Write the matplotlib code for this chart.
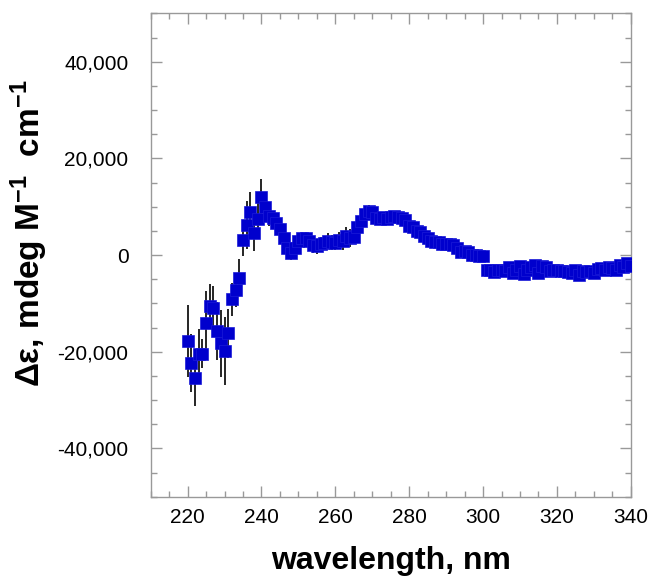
import matplotlib
matplotlib.use('Agg')
import matplotlib.pyplot as plt
from matplotlib.ticker import MultipleLocator, FuncFormatter

plt.rcParams['font.family'] = ['Liberation Sans', 'DejaVu Sans']
plt.rcParams['mathtext.fontset'] = 'custom'
plt.rcParams['mathtext.rm'] = 'Liberation Sans:bold'
plt.rcParams['mathtext.default'] = 'rm'

# wavelength, nm (one point per nm)
wavelength = list(range(220, 341))

# delta epsilon
delta_eps = [
    -17800, -22300, -25500, -20400, -20400, -14000, -10500, -11000, -15700, -18300,  # 220-229
    -19900, -16200, -9200, -7200, -4700, 3200, 6200, 9000, 4600, 7500,              # 230-239
    12000, 10000, 8000, 7700, 6700, 5300, 3500, 1500, 500, 1500,                     # 240-249
    2800, 3500, 3600, 3000, 2000, 1800, 2200, 2500, 3000, 2600,                      # 250-259
    2500, 3200, 2800, 4000, 3500, 3800, 5800, 7000, 8500, 9200,                      # 260-269
    9000, 7600, 7400, 7800, 7500, 7900, 8000, 7800, 7600, 7300,                      # 270-279
    6000, 5800, 5000, 4800, 4000, 3500, 3000, 2600, 2600, 2200,                      # 280-289
    2300, 2200, 2000, 1500, 700, 800, 600, 0, 0, -100,                               # 290-299
    -100, -3000, -3200, -3600, -3200, -3000, -3400, -2400, -3800, -3000,             # 300-309
    -2200, -4000, -3000, -2500, -2000, -3800, -2200, -2400, -3300, -3200,            # 310-319
    -3000, -3400, -3300, -3600, -3800, -3200, -4200, -3400, -3500, -3300,            # 320-329
    -3800, -2800, -2600, -3000, -2500, -2700, -3000, -2000, -2400, -1600,            # 330-339
    -2300,                                                                           # 340
]

# error bars
err = [
    7500, 6000, 5700, 5000, 3000, 6500, 4500, 4500, 6000, 7000,
    7000, 5000, 3500, 3500, 3800, 3500, 5000, 4000, 3800, 3500,
    3700, 2500, 2000, 1500, 1500, 1500, 1500, 1500, 1500, 1500,
    1200, 1200, 1200, 1200, 1500, 1500, 1500, 1500, 1500, 1500,
    1500, 1500, 1800, 1800, 1800, 1500, 1500, 1200, 1200, 1200,
    1000, 1000, 1000, 1000, 1000, 1000, 1000, 1000, 1000, 1000,
    1000, 1000, 1000, 1000, 1000, 1000, 1000, 1000, 1000, 1000,
    1000, 1000, 1000, 1000, 1000, 1000, 1000, 1000, 1000, 1000,
    500, 500, 500, 500, 500, 500, 500, 500, 500, 500,
    500, 500, 500, 500, 500, 500, 500, 500, 500, 500,
    500, 500, 500, 500, 500, 500, 500, 500, 500, 500,
    500, 500, 500, 500, 500, 500, 500, 500, 500, 500,
    500,
]

fig = plt.figure(figsize=(6.55, 5.8), dpi=100)
ax = fig.add_axes([0.230, 0.1436, 0.733, 0.8334])

ax.errorbar(wavelength, delta_eps, yerr=err, fmt='none', ecolor='black',
            elinewidth=1.2, capsize=0, zorder=2)
ax.plot(wavelength, delta_eps, 's', color='#0000CD', markersize=8,
        markeredgecolor='#1a1ad8', markeredgewidth=0.5, zorder=3)

ax.set_xlim(210, 340)
ax.set_ylim(-50000, 50000)
ax.xaxis.set_major_locator(MultipleLocator(20))
ax.xaxis.set_minor_locator(MultipleLocator(5))
ax.yaxis.set_major_locator(MultipleLocator(20000))
ax.yaxis.set_minor_locator(MultipleLocator(5000))
ax.yaxis.set_major_formatter(FuncFormatter(lambda v, p: f'{int(v):,}'))
ax.set_xticks([220, 240, 260, 280, 300, 320, 340])
ax.set_yticks([-40000, -20000, 0, 20000, 40000])

for s in ax.spines.values():
    s.set_color('#999999')
    s.set_linewidth(1.0)

ax.tick_params(which='both', direction='in', top=True, right=True, color='#999999')
ax.tick_params(which='major', length=8, width=1.0, labelsize=15)
ax.tick_params(which='minor', length=4, width=1.0)
ax.tick_params(axis='x', which='major', pad=8)
ax.tick_params(axis='y', which='major', pad=16)

ax.set_xlabel('wavelength, nm', fontsize=23, fontweight='bold', labelpad=14)
ax.set_ylabel('Δε, mdeg M$^{-1}$  cm$^{-1}$', fontsize=24, fontweight='bold')
ax.yaxis.set_label_coords(-0.21, 0.545)

fig.savefig('out.png', dpi=100)
